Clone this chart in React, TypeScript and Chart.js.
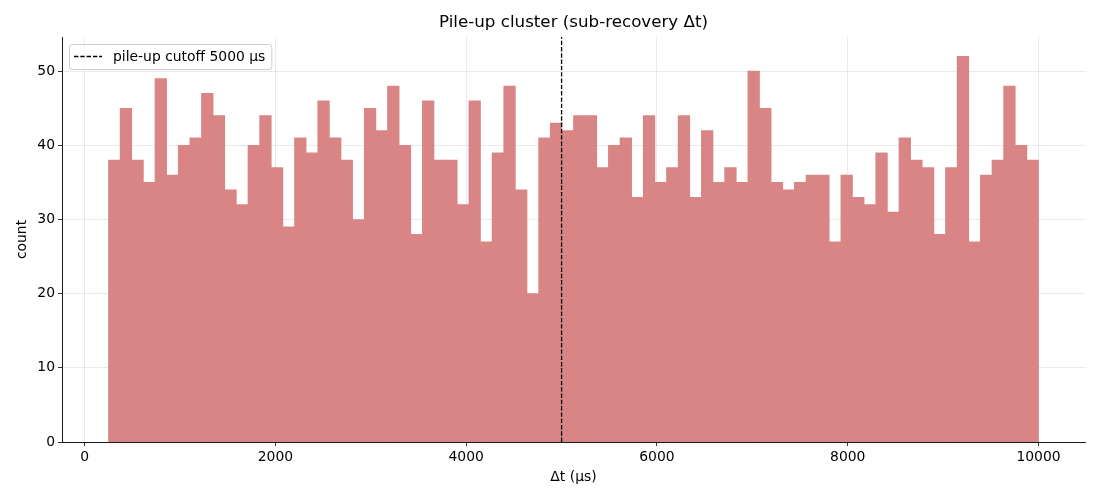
import { useEffect, useRef } from "react"
import { Chart, registerables } from "chart.js"
import type { Plugin } from "chart.js"

Chart.register(...registerables)

// histogram: 80 bins between 250 and 10000 µs
const binStart = 250
const binEnd = 10000
const counts = [
  38, 45, 38, 35, 49, 36, 40, 41, 47, 44,
  34, 32, 40, 44, 37, 29, 41, 39, 46, 41,
  38, 30, 45, 42, 48, 40, 28, 46, 38, 38,
  32, 46, 27, 39, 48, 34, 20, 41, 43, 42,
  44, 44, 37, 40, 41, 33, 44, 35, 37, 44,
  33, 42, 35, 37, 35, 50, 45, 35, 34, 35,
  36, 36, 27, 36, 33, 32, 39, 31, 41, 38,
  37, 28, 37, 52, 27, 36, 38, 48, 40, 38,
]
const cutoff = 5000
const cutoffLabel = "pile-up cutoff 5000 μs"
const xTicks = [0, 2000, 4000, 6000, 8000, 10000]
const yTicks = [0, 10, 20, 30, 40, 50]

const FONT = "'DejaVu Sans', sans-serif"
const TITLE = "Pile-up cluster (sub-recovery Δt)"

const binWidth = (binEnd - binStart) / counts.length
const xPad = (binEnd - binStart) * 0.05
const yMax = Math.max(...counts) * 1.05

// title centred over the plot area, like matplotlib
const titlePlugin: Plugin = {
  id: "axesTitle",
  afterDraw(chart) {
    const { ctx, chartArea } = chart
    ctx.save()
    ctx.font = `16.7px ${FONT}`
    ctx.fillStyle = "#000"
    ctx.textAlign = "center"
    ctx.textBaseline = "middle"
    ctx.fillText(TITLE, (chartArea.left + chartArea.right) / 2, 23)
    ctx.restore()
  },
}

// legend box in upper-left of the axes
const legendPlugin: Plugin = {
  id: "boxLegend",
  afterDraw(chart) {
    const { ctx, chartArea } = chart
    const label = String(chart.data.datasets[1].label)
    const x = chartArea.left + 7
    const y = chartArea.top + 7
    ctx.save()
    ctx.font = `13.9px ${FONT}`
    const w = ctx.measureText(label).width + 50
    const h = 25
    ctx.beginPath()
    ctx.roundRect(x + 0.5, y + 0.5, w, h, 3)
    ctx.fillStyle = "rgba(255,255,255,0.8)"
    ctx.fill()
    ctx.strokeStyle = "#cccccc"
    ctx.lineWidth = 1
    ctx.stroke()
    ctx.beginPath()
    ctx.setLineDash([4.4, 1.9])
    ctx.lineWidth = 1.3
    ctx.strokeStyle = "#000"
    ctx.moveTo(x + 5, y + 12.5)
    ctx.lineTo(x + 33, y + 12.5)
    ctx.stroke()
    ctx.setLineDash([])
    ctx.fillStyle = "#000"
    ctx.textBaseline = "middle"
    ctx.fillText(label, x + 44, y + 13)
    ctx.restore()
  },
}

export default function App() {
  const chartRef = useRef<HTMLCanvasElement>(null)
  const chartInstance = useRef<Chart | null>(null)

  useEffect(() => {
    if (!chartRef.current) return
    if (chartInstance.current) chartInstance.current.destroy()

    const ctx = chartRef.current.getContext("2d")
    if (!ctx) return

    const bars = counts.map((c, i) => ({ x: binStart + binWidth * (i + 0.5), y: c }))

    chartInstance.current = new Chart(ctx, {
      type: "bar",
      data: {
        datasets: [
          {
            type: "bar",
            label: "counts",
            data: bars,
            backgroundColor: "rgb(217,133,133)",
            borderWidth: 0,
            barPercentage: 1,
            categoryPercentage: 1,
            order: 1,
          },
          {
            type: "line",
            label: cutoffLabel,
            data: [
              { x: cutoff, y: 0 },
              { x: cutoff, y: yMax },
            ],
            borderColor: "#000",
            borderWidth: 1.3,
            borderDash: [4.4, 1.9],
            pointRadius: 0,
            fill: false,
            order: 0,
          },
        ],
      },
      options: {
        responsive: true,
        maintainAspectRatio: false,
        animation: false,
        layout: { padding: { left: 13.7, right: 15, top: 37, bottom: 14.7 } },
        plugins: {
          legend: { display: false },
          title: { display: false },
          tooltip: { enabled: false },
        },
        scales: {
          x: {
            type: "linear",
            min: binStart - xPad,
            max: binEnd + xPad,
            offset: false,
            z: 1,
            grid: {
              offset: false,
              color: "rgba(176,176,176,0.35)",
              lineWidth: 0.8,
              tickColor: "#000",
              tickLength: 4,
              tickWidth: 0.8,
            },
            border: { color: "#000", width: 0.9 },
            ticks: {
              includeBounds: false,
              color: "#000",
              padding: 3,
              font: { family: FONT, size: 13.9 },
              callback: (v) => String(v),
            },
            afterBuildTicks: (scale) => {
              scale.ticks = xTicks.map((v) => ({ value: v }))
            },
            afterFit: (scale) => {
              scale.height = 500 - 14.7 - 442
            },
            title: {
              display: true,
              text: "Δt (μs)",
              color: "#000",
              padding: 0,
              font: { family: FONT, size: 13.9 },
            },
          },
          y: {
            min: 0,
            max: yMax,
            z: 1,
            grid: {
              offset: false,
              color: "rgba(176,176,176,0.35)",
              lineWidth: 0.8,
              tickColor: "#000",
              tickLength: 4,
              tickWidth: 0.8,
            },
            border: { color: "#000", width: 0.9 },
            ticks: {
              includeBounds: false,
              color: "#000",
              padding: 3,
              font: { family: FONT, size: 13.9 },
              callback: (v) => String(v),
            },
            afterBuildTicks: (scale) => {
              scale.ticks = yTicks.map((v) => ({ value: v }))
            },
            afterFit: (scale) => {
              scale.width = 62 - 13.7
            },
            title: {
              display: true,
              text: "count",
              color: "#000",
              padding: 0,
              font: { family: FONT, size: 13.9 },
            },
          },
        },
      },
      plugins: [titlePlugin, legendPlugin],
    })

    return () => {
      if (chartInstance.current) {
        chartInstance.current.destroy()
        chartInstance.current = null
      }
    }
  }, [])

  return (
    <div style={{ position: "fixed", left: 0, top: 0, width: 1100, height: 500, background: "#fff" }}>
      <canvas ref={chartRef} />
    </div>
  )
}
